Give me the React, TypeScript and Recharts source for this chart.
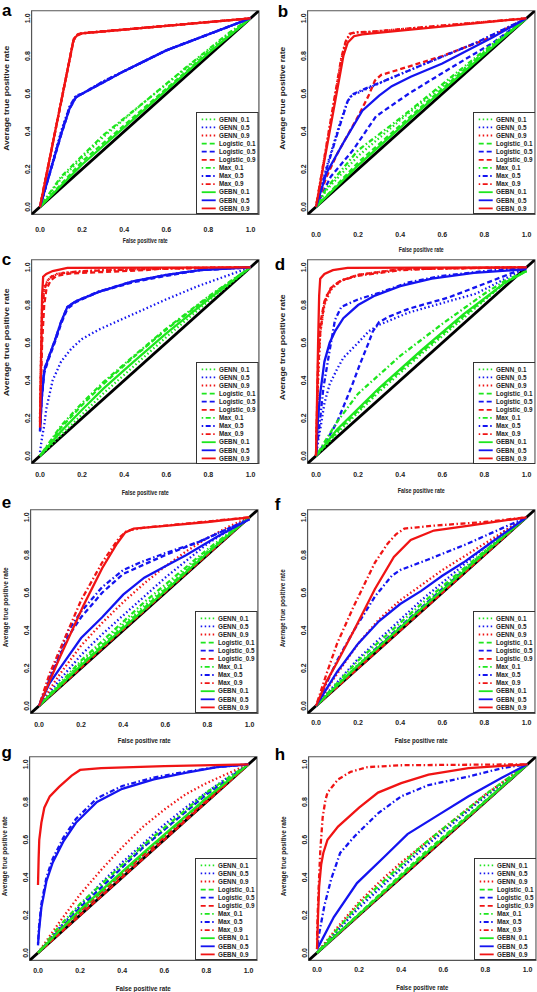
import { LineChart, Line, XAxis, YAxis, ReferenceArea, Legend } from "recharts";

type Pt = [number, number];

// series order used by every panel below
const SERIES = [
  "GENN_0.1", "GENN_0.5", "GENN_0.9",
  "Logistic_0.1", "Logistic_0.5", "Logistic_0.9",
  "Max_0.1", "Max_0.5", "Max_0.9",
  "GEBN_0.1", "GEBN_0.5", "GEBN_0.9",
];
const COLORS = ["#1ee61e", "#1414f0", "#f01414"]; // 0.1, 0.5, 0.9
const DASHES = ["1.5 2.5", "5 3", "1.5 2.5 5 2.5", undefined]; // GENN, Logistic, Max, GEBN
const TICKS = [0, 0.2, 0.4, 0.6, 0.8, 1];
const DIAGONAL: Pt[] = [[-0.04, -0.04], [1.04, 1.04]];

const PANEL_A: Pt[][] = [
  [[0, 0], [0.1, 0.15], [0.3, 0.37], [0.5, 0.56], [0.7, 0.74], [0.9, 0.92], [1, 1]],
  [[0, 0], [0.1, 0.4], [0.14, 0.53], [0.17, 0.585], [0.2, 0.6], [0.3, 0.665], [0.4, 0.72], [0.6, 0.83], [0.8, 0.915], [1, 1]],
  [[0, 0], [0.16, 0.89], [0.18, 0.915], [0.2, 0.92], [1, 1]],
  [[0, 0], [0.2, 0.24], [0.5, 0.53], [0.8, 0.82], [1, 1]],
  [[0, 0], [0.1, 0.38], [0.14, 0.52], [0.17, 0.58], [0.2, 0.6], [0.3, 0.66], [0.4, 0.72], [0.6, 0.83], [0.8, 0.915], [1, 1]],
  [[0, 0], [0.16, 0.885], [0.18, 0.91], [0.2, 0.92], [1, 1]],
  [[0, 0], [0.1, 0.16], [0.3, 0.38], [0.5, 0.56], [0.7, 0.745], [0.9, 0.925], [1, 1]],
  [[0, 0], [0.1, 0.39], [0.14, 0.53], [0.17, 0.59], [0.2, 0.6], [0.3, 0.665], [0.4, 0.72], [0.6, 0.83], [0.8, 0.915], [1, 1]],
  [[0, 0], [0.16, 0.89], [0.18, 0.915], [0.2, 0.922], [1, 1]],
  [[0, 0], [0.2, 0.225], [0.5, 0.52], [0.8, 0.815], [1, 1]],
  [[0, 0], [0.1, 0.385], [0.14, 0.52], [0.17, 0.58], [0.2, 0.6], [0.3, 0.66], [0.4, 0.72], [0.6, 0.83], [0.8, 0.915], [1, 1]],
  [[0, 0], [0.16, 0.89], [0.18, 0.913], [0.2, 0.92], [1, 1]],
];

const PANEL_B: Pt[][] = [
  [[0, 0], [0.05, 0.09], [0.2, 0.27], [0.4, 0.46], [0.6, 0.64], [0.8, 0.82], [1, 1]],
  [[0, 0], [0.05, 0.21], [0.11, 0.43], [0.15, 0.56], [0.17, 0.59], [0.24, 0.625], [0.35, 0.68], [0.52, 0.76], [0.76, 0.87], [1, 1]],
  [[0, 0], [0.12, 0.78], [0.14, 0.87], [0.16, 0.915], [0.19, 0.925], [0.25, 0.927], [1, 1]],
  [[0, 0], [0.2, 0.235], [0.5, 0.53], [0.8, 0.82], [1, 1]],
  [[0, 0], [0.07, 0.16], [0.175, 0.3], [0.285, 0.48], [0.44, 0.6], [0.63, 0.73], [0.84, 0.87], [1, 1]],
  [[0, 0], [0.05, 0.16], [0.1, 0.28], [0.15, 0.38], [0.2, 0.48], [0.25, 0.59], [0.28, 0.67], [0.31, 0.7], [0.4, 0.73], [0.6, 0.8], [0.8, 0.885], [1, 1]],
  [[0, 0], [0.05, 0.1], [0.2, 0.3], [0.4, 0.47], [0.6, 0.65], [0.8, 0.83], [1, 1]],
  [[0, 0], [0.05, 0.2], [0.11, 0.42], [0.15, 0.56], [0.17, 0.595], [0.24, 0.63], [0.35, 0.68], [0.52, 0.76], [0.76, 0.87], [1, 1]],
  [[0, 0], [0.12, 0.79], [0.14, 0.875], [0.16, 0.918], [0.19, 0.926], [0.25, 0.928], [1, 1]],
  [[0, 0], [0.2, 0.22], [0.5, 0.52], [0.8, 0.81], [1, 1]],
  [[0, 0], [0.05, 0.18], [0.13, 0.34], [0.22, 0.51], [0.3, 0.59], [0.36, 0.64], [0.45, 0.69], [0.6, 0.76], [0.84, 0.9], [1, 1]],
  [[0, 0], [0.13, 0.8], [0.15, 0.87], [0.18, 0.905], [0.22, 0.915], [1, 1]],
];

const PANEL_C: Pt[][] = [
  [[0, 0], [0.1, 0.11], [0.2, 0.22], [0.3, 0.33], [0.44, 0.47], [0.6, 0.63], [0.8, 0.82], [1, 1]],
  [[0, 0.02], [0.01, 0.1], [0.02, 0.16], [0.03, 0.25], [0.06, 0.4], [0.1, 0.5], [0.15, 0.57], [0.2, 0.62], [0.28, 0.67], [0.4, 0.73], [0.5, 0.78], [0.6, 0.83], [0.75, 0.9], [0.9, 0.96], [1, 1]],
  [[0, 0.2], [0.005, 0.55], [0.01, 0.8], [0.02, 0.9], [0.05, 0.95], [0.1, 0.97], [0.3, 0.985], [0.6, 0.995], [1, 1]],
  [[0, 0], [0.1, 0.15], [0.2, 0.27], [0.3, 0.38], [0.44, 0.52], [0.6, 0.67], [0.8, 0.84], [1, 1]],
  [[0, 0.13], [0.008, 0.3], [0.02, 0.44], [0.04, 0.51], [0.07, 0.6], [0.1, 0.7], [0.13, 0.78], [0.17, 0.815], [0.28, 0.87], [0.44, 0.92], [0.6, 0.955], [0.76, 0.985], [1, 1]],
  [[0, 0.18], [0.005, 0.4], [0.01, 0.6], [0.02, 0.8], [0.03, 0.88], [0.05, 0.93], [0.08, 0.955], [0.15, 0.968], [0.3, 0.975], [0.5, 0.985], [0.6, 0.995], [1, 1]],
  [[0, 0], [0.1, 0.16], [0.2, 0.28], [0.3, 0.39], [0.44, 0.525], [0.6, 0.675], [0.8, 0.845], [1, 1]],
  [[0, 0.14], [0.008, 0.32], [0.02, 0.46], [0.04, 0.52], [0.07, 0.61], [0.1, 0.71], [0.13, 0.79], [0.17, 0.82], [0.28, 0.872], [0.44, 0.925], [0.6, 0.96], [0.76, 0.985], [1, 1]],
  [[0, 0.2], [0.005, 0.5], [0.01, 0.75], [0.02, 0.88], [0.04, 0.94], [0.08, 0.965], [0.2, 0.98], [0.5, 0.99], [1, 1]],
  [[0, 0], [0.1, 0.13], [0.2, 0.245], [0.3, 0.355], [0.44, 0.495], [0.6, 0.65], [0.8, 0.83], [1, 1]],
  [[0, 0.13], [0.008, 0.3], [0.02, 0.45], [0.04, 0.52], [0.07, 0.61], [0.1, 0.71], [0.13, 0.79], [0.17, 0.82], [0.28, 0.87], [0.44, 0.925], [0.6, 0.96], [0.76, 0.985], [1, 1]],
  [[0, 0.15], [0.005, 0.5], [0.01, 0.85], [0.015, 0.95], [0.03, 0.965], [0.06, 0.98], [0.13, 0.997], [1, 1]],
];

const PANEL_D: Pt[][] = [
  [[0, 0], [0.1, 0.12], [0.3, 0.34], [0.5, 0.54], [0.7, 0.73], [0.9, 0.92], [1, 0.98]],
  [[0, 0], [0.01, 0.08], [0.02, 0.14], [0.04, 0.28], [0.065, 0.38], [0.1, 0.46], [0.13, 0.52], [0.2, 0.6], [0.25, 0.66], [0.3, 0.695], [0.44, 0.76], [0.63, 0.82], [0.76, 0.86], [0.9, 0.94], [1, 1]],
  [[0, 0], [0.01, 0.4], [0.02, 0.65], [0.04, 0.8], [0.07, 0.88], [0.12, 0.93], [0.2, 0.96], [0.4, 0.99], [1, 1]],
  [[0, 0], [0.1, 0.13], [0.3, 0.35], [0.5, 0.55], [0.7, 0.74], [0.9, 0.92], [1, 0.98]],
  [[0, 0], [0.05, 0.08], [0.1, 0.18], [0.13, 0.26], [0.17, 0.37], [0.21, 0.49], [0.25, 0.6], [0.27, 0.66], [0.3, 0.71], [0.35, 0.74], [0.44, 0.78], [0.63, 0.84], [0.84, 0.93], [1, 1]],
  [[0, 0], [0.005, 0.25], [0.01, 0.5], [0.02, 0.7], [0.04, 0.82], [0.07, 0.89], [0.12, 0.93], [0.2, 0.96], [0.4, 0.99], [1, 1]],
  [[0, 0], [0.1, 0.18], [0.2, 0.33], [0.4, 0.53], [0.6, 0.7], [0.8, 0.86], [0.9, 0.93], [1, 0.98]],
  [[0, 0], [0.02, 0.2], [0.035, 0.36], [0.065, 0.56], [0.09, 0.72], [0.12, 0.79], [0.2, 0.83], [0.3, 0.865], [0.44, 0.92], [0.6, 0.955], [0.8, 0.98], [1, 1]],
  [[0, 0], [0.005, 0.2], [0.01, 0.45], [0.02, 0.65], [0.035, 0.78], [0.05, 0.85], [0.08, 0.9], [0.12, 0.93], [0.2, 0.955], [0.4, 0.985], [0.6, 0.995], [1, 1]],
  [[0, 0], [0.1, 0.14], [0.3, 0.36], [0.5, 0.56], [0.7, 0.75], [0.9, 0.92], [1, 0.98]],
  [[0, 0], [0.01, 0.2], [0.02, 0.33], [0.04, 0.5], [0.065, 0.6], [0.09, 0.66], [0.13, 0.73], [0.2, 0.8], [0.28, 0.85], [0.4, 0.9], [0.55, 0.94], [0.75, 0.97], [1, 0.99]],
  [[0, 0], [0.005, 0.3], [0.01, 0.6], [0.015, 0.85], [0.02, 0.94], [0.04, 0.965], [0.08, 0.985], [0.15, 0.997], [1, 1]],
];

const PANEL_E: Pt[][] = [
  [[0, 0], [0.2, 0.23], [0.5, 0.53], [0.8, 0.82], [1, 1]],
  [[0, 0], [0.1, 0.14], [0.2, 0.27], [0.3, 0.38], [0.4, 0.48], [0.5, 0.58], [0.6, 0.68], [0.7, 0.77], [0.8, 0.86], [0.9, 0.93], [1, 1]],
  [[0, 0], [0.1, 0.17], [0.2, 0.32], [0.3, 0.44], [0.4, 0.55], [0.5, 0.65], [0.6, 0.74], [0.7, 0.82], [0.8, 0.89], [0.9, 0.95], [1, 1]],
  [[0, 0], [0.2, 0.22], [0.5, 0.52], [0.8, 0.815], [1, 1]],
  [[0, 0], [0.05, 0.14], [0.14, 0.37], [0.2, 0.47], [0.3, 0.6], [0.4, 0.7], [0.5, 0.75], [0.6, 0.8], [0.76, 0.87], [0.9, 0.94], [1, 0.99]],
  [[0, 0], [0.3, 0.305], [0.6, 0.605], [1, 1]],
  [[0, 0], [0.2, 0.24], [0.5, 0.55], [0.8, 0.83], [1, 1]],
  [[0, 0], [0.05, 0.15], [0.14, 0.4], [0.2, 0.5], [0.3, 0.63], [0.4, 0.72], [0.48, 0.76], [0.6, 0.81], [0.76, 0.87], [0.9, 0.94], [1, 0.99]],
  [[0, 0], [0.05, 0.17], [0.1, 0.3], [0.2, 0.56], [0.3, 0.76], [0.38, 0.89], [0.42, 0.93], [0.5, 0.945], [1, 1]],
  [[0, 0], [0.2, 0.215], [0.5, 0.51], [0.8, 0.81], [1, 1]],
  [[0, 0], [0.05, 0.12], [0.1, 0.2], [0.2, 0.36], [0.3, 0.47], [0.4, 0.59], [0.5, 0.68], [0.6, 0.74], [0.7, 0.8], [0.85, 0.9], [1, 0.99]],
  [[0, 0], [0.1, 0.26], [0.21, 0.53], [0.3, 0.73], [0.37, 0.86], [0.41, 0.92], [0.45, 0.94], [0.6, 0.955], [0.8, 0.975], [1, 1]],
];

const PANEL_F: Pt[][] = [
  [[0, 0], [0.2, 0.22], [0.5, 0.52], [0.8, 0.82], [1, 1]],
  [[0, 0], [0.2, 0.25], [0.5, 0.56], [0.8, 0.84], [0.9, 0.93], [1, 1]],
  [[0, 0], [0.1, 0.17], [0.2, 0.33], [0.3, 0.46], [0.4, 0.56], [0.5, 0.64], [0.6, 0.72], [0.7, 0.79], [0.8, 0.86], [0.9, 0.93], [1, 1]],
  [[0, 0], [0.2, 0.21], [0.5, 0.51], [0.8, 0.81], [1, 1]],
  [[0, 0], [0.3, 0.32], [0.6, 0.62], [1, 1]],
  [[0, 0], [0.3, 0.3], [0.6, 0.6], [1, 1]],
  [[0, 0], [0.2, 0.24], [0.5, 0.54], [0.8, 0.82], [1, 1]],
  [[0, 0], [0.05, 0.12], [0.1, 0.24], [0.18, 0.4], [0.28, 0.58], [0.36, 0.69], [0.4, 0.72], [0.53, 0.775], [0.72, 0.86], [0.88, 0.94], [1, 1]],
  [[0, 0], [0.05, 0.17], [0.1, 0.33], [0.18, 0.53], [0.28, 0.76], [0.34, 0.86], [0.38, 0.91], [0.42, 0.94], [0.55, 0.955], [0.8, 0.975], [1, 1]],
  [[0, 0], [0.2, 0.215], [0.5, 0.515], [0.8, 0.81], [1, 1]],
  [[0, 0], [0.05, 0.09], [0.1, 0.18], [0.2, 0.33], [0.3, 0.45], [0.4, 0.54], [0.5, 0.61], [0.6, 0.69], [0.7, 0.76], [0.8, 0.84], [0.9, 0.92], [1, 1]],
  [[0, 0], [0.05, 0.13], [0.1, 0.23], [0.18, 0.4], [0.28, 0.62], [0.37, 0.79], [0.45, 0.88], [0.56, 0.93], [0.72, 0.955], [1, 1]],
];

const PANEL_G: Pt[][] = [
  [[0, 0], [0.2, 0.25], [0.5, 0.56], [0.8, 0.84], [1, 1]],
  [[0, 0], [0.1, 0.13], [0.2, 0.25], [0.3, 0.37], [0.4, 0.48], [0.5, 0.58], [0.6, 0.68], [0.7, 0.77], [0.8, 0.85], [0.9, 0.93], [1, 1]],
  [[0, 0], [0.05, 0.08], [0.1, 0.16], [0.2, 0.31], [0.3, 0.44], [0.4, 0.56], [0.5, 0.67], [0.6, 0.76], [0.7, 0.84], [0.8, 0.9], [0.9, 0.95], [1, 1]],
  [[0, 0], [0.2, 0.22], [0.5, 0.52], [0.8, 0.82], [1, 1]],
  [[0, 0], [0.2, 0.24], [0.5, 0.56], [0.8, 0.84], [1, 1]],
  [[0, 0], [0.3, 0.3], [0.6, 0.6], [1, 1]],
  [[0, 0], [0.1, 0.14], [0.2, 0.26], [0.5, 0.57], [0.8, 0.85], [1, 1]],
  [[0, 0.05], [0.005, 0.14], [0.016, 0.26], [0.04, 0.4], [0.07, 0.5], [0.12, 0.61], [0.18, 0.71], [0.28, 0.82], [0.4, 0.885], [0.55, 0.93], [0.7, 0.96], [0.85, 0.985], [1, 1]],
  [[0, 0], [0.1, 0.12], [0.5, 0.52], [1, 1]],
  [[0, 0], [0.2, 0.23], [0.5, 0.53], [0.8, 0.82], [1, 1]],
  [[0, 0.04], [0.005, 0.12], [0.016, 0.24], [0.04, 0.38], [0.07, 0.48], [0.12, 0.59], [0.18, 0.69], [0.28, 0.8], [0.4, 0.87], [0.55, 0.92], [0.7, 0.955], [0.85, 0.985], [1, 1]],
  [[0, 0.36], [0.003, 0.5], [0.006, 0.6], [0.016, 0.69], [0.03, 0.77], [0.056, 0.83], [0.1, 0.88], [0.16, 0.94], [0.2, 0.97], [0.3, 0.98], [0.6, 0.99], [1, 1]],
];

const PANEL_H: Pt[][] = [
  [[0, 0], [0.2, 0.25], [0.5, 0.56], [0.8, 0.83], [1, 1]],
  [[0, 0], [0.2, 0.24], [0.5, 0.55], [0.8, 0.83], [1, 1]],
  [[0, 0], [0.1, 0.14], [0.2, 0.27], [0.3, 0.38], [0.4, 0.48], [0.5, 0.57], [0.6, 0.66], [0.7, 0.75], [0.8, 0.84], [0.9, 0.92], [1, 1]],
  [[0, 0], [0.5, 0.52], [1, 1]],
  [[0, 0], [0.5, 0.505], [1, 1]],
  [[0, 0], [0.3, 0.3], [0.6, 0.6], [1, 1]],
  [[0, 0], [0.2, 0.26], [0.5, 0.57], [0.8, 0.84], [1, 1]],
  [[0, 0.02], [0.01, 0.1], [0.035, 0.25], [0.067, 0.39], [0.11, 0.53], [0.18, 0.62], [0.29, 0.74], [0.4, 0.83], [0.53, 0.89], [0.72, 0.935], [0.88, 0.98], [1, 1]],
  [[0, 0.07], [0.003, 0.2], [0.008, 0.35], [0.016, 0.55], [0.027, 0.72], [0.04, 0.81], [0.05, 0.85], [0.1, 0.92], [0.16, 0.96], [0.24, 0.985], [0.4, 0.995], [1, 1]],
  [[0, 0], [0.5, 0.51], [1, 1]],
  [[0, 0.02], [0.01, 0.04], [0.08, 0.19], [0.19, 0.37], [0.32, 0.51], [0.43, 0.63], [0.56, 0.72], [0.72, 0.83], [0.88, 0.93], [1, 1]],
  [[0, 0.02], [0.005, 0.2], [0.01, 0.35], [0.02, 0.47], [0.03, 0.53], [0.05, 0.6], [0.1, 0.67], [0.2, 0.77], [0.29, 0.85], [0.4, 0.9], [0.53, 0.945], [0.72, 0.98], [1, 1]],
];

// page position of data (0, 1) corner per panel, plus text offsets
const PANELS = [
  { letter: "a", curves: PANEL_A, x0: 40, y1: 18.3, lx: 2, ly: 15.5, tickGap: 15, xtGap: 26.5, xtLen: 45, ytDy: 80, ytLen: 105 },
  { letter: "b", curves: PANEL_B, x0: 316.3, y1: 18.3, lx: 278, ly: 16.7, tickGap: 20.5, xtGap: 35.5, xtLen: 45, ytDy: 80, ytLen: 103 },
  { letter: "c", curves: PANEL_C, x0: 40, y1: 267.7, lx: 1.7, ly: 265, tickGap: 11, xtGap: 29.5, xtLen: 47, ytDy: 75, ytLen: 108 },
  { letter: "d", curves: PANEL_D, x0: 316.3, y1: 267.7, lx: 275, ly: 270, tickGap: 11, xtGap: 27.5, xtLen: 47, ytDy: 80, ytLen: 106 },
  { letter: "e", curves: PANEL_E, x0: 39, y1: 517.3, lx: 1.7, ly: 508.3, tickGap: 10.8, xtGap: 27.5, xtLen: 53, ytDy: 90, ytLen: 80 },
  { letter: "f", curves: PANEL_F, x0: 316.3, y1: 517.3, lx: 275, ly: 510, tickGap: 9, xtGap: 27.5, xtLen: 53, ytDy: 91, ytLen: 78 },
  { letter: "g", curves: PANEL_G, x0: 38.3, y1: 764.3, lx: 1.7, ly: 758.3, tickGap: 9.8, xtGap: 28, xtLen: 55, ytDy: 92, ytLen: 80 },
  { letter: "h", curves: PANEL_H, x0: 317.3, y1: 764.3, lx: 275, ly: 760, tickGap: 9.2, xtGap: 27.5, xtLen: 52, ytDy: 92, ytLen: 80 },
];

const FONT = "'Liberation Sans', Arial, Helvetica, sans-serif";
const W = 268;
const H = 248;
const UX = 210.5; // px per unit, x
const UY = 188.6; // px per unit, y
const BOX_W = 1.08 * UX;
const BOX_H = 1.08 * UY;
const Y_AXIS_W = 40 - 0.04 * UX;
const TOP = 18.3 - 0.04 * UY;
const LEG_W = 62.5;
const LEG_H = 102;

const toRows = (pts: Pt[]) => pts.map(([x, y]) => ({ x, y }));

function LegendBox() {
  return (
    <svg width={LEG_W} height={LEG_H} style={{ display: "block" }}>
      <rect x={0.5} y={0.5} width={LEG_W - 1} height={LEG_H - 1} fill="#fff" stroke="#333" strokeWidth={1} />
      {SERIES.map((name, i) => {
        const cy = 7.3 + i * 8.1;
        return (
          <g key={name}>
            <line
              x1={5.7}
              x2={19.7}
              y1={cy}
              y2={cy}
              stroke={COLORS[i % 3]}
              strokeWidth={1.8}
              strokeDasharray={DASHES[Math.floor(i / 3)]}
            />
            <text x={23} y={cy + 2.2} fontSize={6.3} fontWeight="bold" fontFamily={FONT} fill="#222">
              {name}
            </text>
          </g>
        );
      })}
    </svg>
  );
}

function Panel({ p }: { p: (typeof PANELS)[number] }) {
  const left = p.x0 - 40;
  const top = p.y1 - 18.3;
  const boxBottom = TOP + BOX_H;
  const ytX = 40 - 34 + 2.5;
  const ytY = 18.3 + p.ytDy;
  return (
    <div style={{ position: "absolute", left, top, width: W, height: H }}>
      <LineChart
        width={W}
        height={H}
        margin={{ top: TOP, right: W - Y_AXIS_W - BOX_W, bottom: 0, left: 0 }}
      >
        <XAxis
          type="number"
          dataKey="x"
          domain={[-0.04, 1.04]}
          ticks={TICKS}
          allowDataOverflow
          axisLine={false}
          tickLine={false}
          tickSize={0}
          tickMargin={0}
          height={H - TOP - BOX_H}
          interval={0}
          tick={(t: any) => (
            <text
              x={t.x}
              y={t.y + p.tickGap + 2.5}
              textAnchor="middle"
              fontSize={7}
              fontWeight="bold"
              fontFamily={FONT}
              fill="#222"
            >
              {Number(t.payload.value).toFixed(1)}
            </text>
          )}
        />
        <YAxis
          type="number"
          dataKey="y"
          domain={[-0.04, 1.04]}
          ticks={TICKS}
          allowDataOverflow
          axisLine={false}
          tickLine={false}
          tickSize={0}
          tickMargin={2}
          width={Y_AXIS_W}
          interval={0}
          tick={(t: any) => (
            <text
              transform={`translate(${t.x},${t.y}) rotate(-90)`}
              textAnchor="middle"
              fontSize={7}
              fontWeight="bold"
              fontFamily={FONT}
              fill="#222"
            >
              {Number(t.payload.value).toFixed(1)}
            </text>
          )}
        />
        <Line
          data={toRows(DIAGONAL)}
          dataKey="y"
          type="linear"
          stroke="#000"
          strokeWidth={2.8}
          dot={false}
          activeDot={false}
          isAnimationActive={false}
        />
        {p.curves.map((pts, i) => (
          <Line
            key={SERIES[i]}
            name={SERIES[i]}
            data={toRows(pts)}
            dataKey="y"
            type="linear"
            stroke={COLORS[i % 3]}
            strokeWidth={2.3}
            strokeDasharray={DASHES[Math.floor(i / 3)]}
            dot={false}
            activeDot={false}
            isAnimationActive={false}
          />
        ))}
        <ReferenceArea
          x1={-0.04}
          x2={1.04}
          y1={-0.04}
          y2={1.04}
          fill="none"
          fillOpacity={0}
          stroke="#555"
          strokeWidth={1.2}
          ifOverflow="visible"
        />
        <Legend
          layout="horizontal"
          verticalAlign="middle"
          align="center"
          wrapperStyle={{
            left: Y_AXIS_W + BOX_W - LEG_W,
            top: boxBottom - LEG_H,
            width: LEG_W,
            height: LEG_H,
            lineHeight: 0,
          }}
          content={() => <LegendBox />}
        />
      </LineChart>
      <svg
        width={W}
        height={H}
        style={{ position: "absolute", left: 0, top: 0, overflow: "visible", pointerEvents: "none" }}
      >
        <text x={p.lx - left} y={p.ly - top} fontSize={17} fontWeight="bold" fontFamily={FONT} fill="#000">
          {p.letter}
        </text>
        <text
          x={40 + UX / 2}
          y={boxBottom + p.xtGap + 2.3}
          textAnchor="middle"
          fontSize={6.5}
          fontWeight="bold"
          fontFamily={FONT}
          fill="#222"
          textLength={p.xtLen}
          lengthAdjust="spacingAndGlyphs"
        >
          False positive rate
        </text>
        <text
          transform={`translate(${ytX},${ytY}) rotate(-90)`}
          textAnchor="middle"
          fontSize={6.5}
          fontWeight="bold"
          fontFamily={FONT}
          fill="#222"
          textLength={p.ytLen}
          lengthAdjust="spacingAndGlyphs"
        >
          Average true positive rate
        </text>
      </svg>
    </div>
  );
}

export default function App() {
  return (
    <div
      style={{
        position: "absolute",
        left: 0,
        top: 0,
        width: 537,
        height: 992,
        overflow: "hidden",
        background: "#fff",
      }}
    >
      {PANELS.map((p) => (
        <Panel key={p.letter} p={p} />
      ))}
    </div>
  );
}
